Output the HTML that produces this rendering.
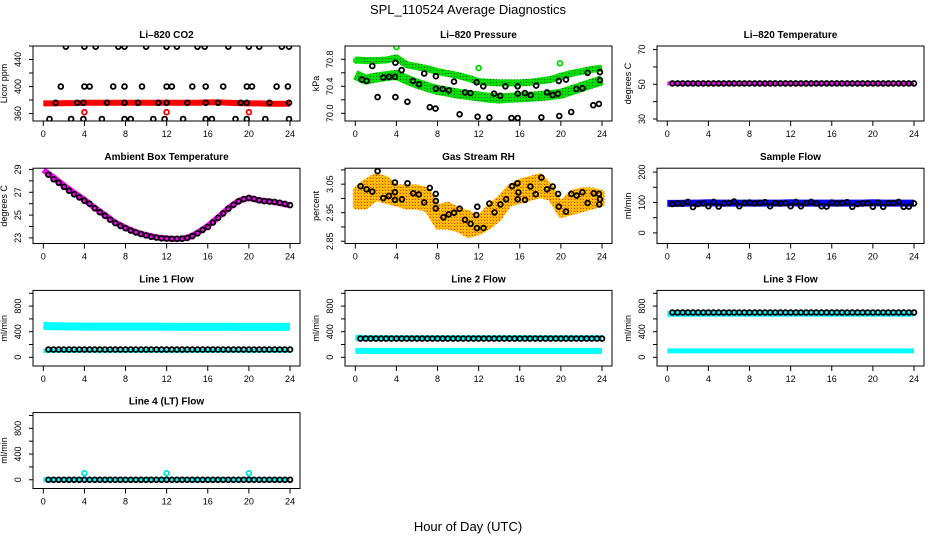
<!DOCTYPE html>
<html><head><meta charset="utf-8">
<style>
html,body{margin:0;padding:0;background:#fff;}
svg{display:block;font-family:"Liberation Sans",sans-serif;}
</style></head>
<body>
<svg id="chart" width="936" height="540" viewBox="0 0 936 540" xmlns="http://www.w3.org/2000/svg">
<defs>
<pattern id="greenDots" width="3" height="3" patternUnits="userSpaceOnUse"><rect width="3" height="3" fill="#00e000"/><rect x="1" y="1" width="1" height="1" fill="#1a5a1a"/></pattern>
<pattern id="orangeDots" width="3" height="3" patternUnits="userSpaceOnUse"><rect width="3" height="3" fill="#ffc400"/><rect x="1" y="1" width="1" height="1" fill="#ff2000"/><rect x="0" y="0" width="1" height="1" fill="#ff8800"/></pattern>
</defs>
<text x="468" y="14" text-anchor="middle" font-size="13">SPL_110524  Average Diagnostics</text>
<text x="468" y="531" text-anchor="middle" font-size="13">Hour of Day (UTC)</text>
</svg>
<script>
const hours = [0,1,2,3,4,5,6,7,8,9,10,11,12,13,14,15,16,17,18,19,20,21,22,23,24];
const halfHours = [0.5,1,1.5,2,2.5,3,3.5,4,4.5,5,5.5,6,6.5,7,7.5,8,8.5,9,9.5,10,10.5,11,11.5,12,12.5,13,13.5,14,14.5,15,15.5,16,16.5,17,17.5,18,18.5,19,19.5,20,20.5,21,21.5,22,22.5,23,23.5,24];
const xTicks = [0,4,8,12,16,20,24];

// CO2
const co2Band = [375,375,375.5,375.5,376,376,376,376,376,376,376,376,376,376,376,376,376.5,376.5,376,375.5,375,375,374.5,374.5,374.5];
const co2TopX = [2.2,4,5.1,7.3,7.9,10,12,13,15,15.7,18,20,21,23.2,23.9];
const co2TopY = [459,459,459,459,459,459,459,459,459,459,459,459,459,459,459];
const co2MidX = [1.7,4,4.5,6.8,7.9,9.6,12,12.5,14.5,15.8,17.5,19.8,20.3,22.7,23.8];
const co2MidY = [400,400,400,400,400,400,400,400,400,400,400,400,400,400,400];
const co2LowX = [0.6,2.7,3.9,5.7,7.9,8.5,10.7,11.8,13.6,15.8,16.4,18.7,19.8,21.6,23.9];
const co2LowY = [352,352,352,352,352,352,352,352,352,352,352,352,352,352,352];
const co2BandPtsX = [1.2,3.3,3.9,6.2,7.9,9.2,11.2,12,14,15.8,17,19.2,19.8,22,23.9];
const co2BandPtsY = [376,376,376,376,376,376,376,376,376,376,376,376,376,376,376];
const co2RedX = [4,12,20];
const co2RedY = [362,362,362];

// Pressure
const presUpper = [70.79,70.78,70.78,70.79,70.82,70.72,70.69,70.66,70.62,70.59,70.56,70.52,70.47,70.46,70.45,70.45,70.45,70.46,70.48,70.50,70.55,70.59,70.62,70.65,70.67];
const presLower = [70.57,70.50,70.53,70.55,70.57,70.50,70.44,70.39,70.345,70.32,70.29,70.27,70.25,70.23,70.22,70.23,70.235,70.245,70.255,70.27,70.29,70.34,70.39,70.44,70.49];
const presBlackX = [1.65,0.62,1.1,2.17,2.72,3.27,3.85,3.9,3.9,4.5,5.07,5.6,6.2,6.7,7.25,7.8,7.84,7.84,8.5,9.1,9.6,10.15,10.67,11.2,11.8,11.9,12.45,13.05,13.5,14.1,14.6,15.2,15.8,15.8,15.8,16.5,17.05,17.6,18.1,18.65,19.2,19.7,19.8,19.85,20.5,21.0,21.5,22.1,22.6,23.15,23.7,23.8,23.8];
const presBlackY = [70.70,70.50,70.48,70.24,70.53,70.54,70.54,70.75,70.24,70.64,70.17,70.48,70.43,70.59,70.09,70.07,70.55,70.365,70.36,70.34,70.47,69.985,70.31,70.30,70.46,69.95,70.40,69.94,70.29,70.26,70.40,69.93,69.93,70.40,70.29,70.30,70.27,70.41,69.94,70.31,70.27,70.29,70.48,69.96,70.50,70.02,70.36,70.37,70.60,70.12,70.14,70.61,70.49];
const presGreenX = [0.1,4.0,12.0,19.9];
const presGreenY = [70.78,70.98,70.67,70.74];

// Li-820 temperature
const tempBand = [50.5,50.5,50.5,50.5,50.5,50.5,50.5,50.5,50.5,50.5,50.5,50.5,50.5,50.5,50.5,50.5,50.5,50.5,50.5,50.5,50.5,50.5,50.5,50.5,50.5];
const tempBlack = [50.5,50.5,50.5,50.5,50.5,50.5,50.5,50.5,50.5,50.5,50.5,50.5,50.5,50.5,50.5,50.5,50.5,50.5,50.5,50.5,50.5,50.5,50.5,50.5,50.5,50.5,50.5,50.5,50.5,50.5,50.5,50.5,50.5,50.5,50.5,50.5,50.5,50.5,50.5,50.5,50.5,50.5,50.5,50.5,50.5,50.5,50.5,50.5];

// Ambient box temperature
const ambBand = [28.95,28.3,27.6,26.95,26.35,25.65,25.0,24.35,23.9,23.5,23.25,23.05,22.95,22.9,23.0,23.45,24.05,24.8,25.6,26.25,26.5,26.3,26.2,26.05,25.85];
const ambBlack = [28.54,28.14,27.83,27.48,27.14,26.82,26.55,26.25,26.0,25.6,25.25,24.95,24.6,24.3,24.05,23.85,23.65,23.48,23.34,23.22,23.1,23.03,22.97,22.94,22.92,22.92,22.93,23.0,23.15,23.4,23.7,23.95,24.35,24.75,25.15,25.55,25.9,26.2,26.4,26.51,26.42,26.3,26.23,26.18,26.16,26.08,25.98,25.88];

// Gas stream RH
const rhUpper = [3.03,3.06,3.08,3.07,3.04,3.04,3.04,3.03,2.97,2.98,2.96,2.95,2.93,2.97,3.00,3.04,3.06,3.07,3.08,3.04,2.98,3.02,3.03,3.03,3.02];
const rhLower = [2.97,2.97,3.00,2.99,2.98,2.97,2.97,2.96,2.90,2.90,2.89,2.87,2.88,2.90,2.93,2.98,2.99,3.00,3.01,3.00,2.94,2.95,2.96,2.97,2.98];
const rhBlackX = [0.52,1.1,1.65,2.17,2.72,3.27,3.85,3.85,3.85,4.53,5.08,5.63,6.18,6.7,7.25,7.83,7.83,7.83,8.57,9.09,9.6,10.15,10.67,11.22,11.77,11.83,11.87,12.47,13.05,13.54,14.12,14.67,15.25,15.77,15.87,15.8,16.51,17.03,17.55,18.1,18.65,19.2,19.73,19.8,20.5,21.02,21.54,22.09,22.6,23.19,23.7,23.8,23.74];
const rhBlackY = [3.043,3.032,3.024,3.096,3.001,3.009,3.056,3.022,2.995,2.997,3.053,3.018,3.014,2.986,3.037,3.016,2.991,2.965,2.934,2.944,2.950,2.964,2.925,2.911,2.942,2.896,2.971,2.896,2.982,2.951,2.979,2.997,3.043,3.053,3.021,2.997,2.995,3.042,3.015,3.073,3.032,3.042,3.016,2.971,2.954,3.016,3.010,3.022,2.984,3.018,3.016,2.997,2.979];

// Sample flow
const sampleBand = [97,97,98,98,99,98,98,98,98,98,98,98,99,98,98,98,98,98,98,98,99,98,98,98,98];
const sampleBlack = [95,97,96,102,85,95,97,88,102,87,97,98,103,88,98,100,97,99,101,88,98,97,98,88,102,88,98,102,97,88,87,100,97,98,101,86,95,97,98,86,100,86,98,98,102,86,87,97];

// Line flows
const l1High = [490,485,482,482,480,480,480,480,480,480,480,480,478,478,478,478,476,476,476,475,475,475,475,475,478];
const l1Low = [100,100,100,100,100,100,100,100,100,100,100,100,100,100,100,100,100,100,100,100,100,100,100,100,100];
const l1Black = [120,120,120,120,120,120,120,120,120,120,120,120,120,120,120,120,120,120,120,120,120,120,120,120,120,120,120,120,120,120,120,120,120,120,120,120,120,120,120,120,120,120,120,120,120,120,120,120];
const l2High = [305,300,300,300,300,300,300,300,300,300,300,300,300,300,300,300,300,300,300,300,300,300,300,300,300];
const l2Low = [100,100,100,100,100,100,100,100,100,100,100,100,100,100,100,100,100,100,100,100,100,100,100,100,100];
const l2Black = [292,292,292,292,292,292,292,292,292,292,292,292,292,292,292,292,292,292,292,292,292,292,292,292,292,292,292,292,292,292,292,292,292,292,292,292,292,292,292,292,292,292,292,292,292,292,292,292];
const l3High = [680,680,680,680,680,680,680,680,680,680,680,680,680,680,680,680,680,680,680,680,680,680,680,680,680];
const l3Low = [100,100,100,100,100,100,100,100,100,100,100,100,100,100,100,100,100,100,100,100,100,100,100,100,100];
const l3Black = [700,700,700,700,700,700,700,700,700,700,700,700,700,700,700,700,700,700,700,700,700,700,700,700,700,700,700,700,700,700,700,700,700,700,700,700,700,700,700,700,700,700,700,700,700,700,700,700];
const l4Line = [0,0,0,0,0,0,0,0,0,0,0,0,0,0,0,0,0,0,0,0,0,0,0,0,0];
const l4Black = [0,0,0,0,0,0,0,0,0,0,0,0,0,0,0,0,0,0,0,0,0,0,0,0,0,0,0,0,0,0,0,0,0,0,0,0,0,0,0,0,0,0,0,0,0,0,0,0];
const l4CyanX = [4,12,20];
const l4CyanY = [100,100,100];

const NS = "http://www.w3.org/2000/svg";
const svg = document.getElementById('chart');

function mk(tag, attrs, parent) {
  const e = document.createElementNS(NS, tag);
  for (const k in attrs) e.setAttribute(k, attrs[k]);
  parent.appendChild(e);
  return e;
}

function panel(p) {
  const left = 33 + 312 * p.col, right = 300 + 312 * p.col;
  const top = 46 + 122.2 * p.row, bottom = 121 + 122.5 * p.row;
  const x0 = 43.3 + 312 * p.col, x24 = 290 + 312 * p.col;
  const sx = h => x0 + (x24 - x0) * h / 24;
  const sy = v => bottom - (v - p.ymin) / (p.ymax - p.ymin) * (bottom - top);
  const g = mk('g', {}, svg);
  
  
  const t = mk('text', {x: (left + right) / 2, y: top - 8, 'text-anchor': 'middle', 'font-size': '10', 'font-weight': 'bold'}, g);
  t.textContent = p.title;
  
  
  const clip = mk('clipPath', {id: 'clip-' + p.name}, g);
  mk('rect', {x: left, y: top, width: right - left, height: bottom - top}, clip);
  const plot = mk('g', {'clip-path': 'url(#clip-' + p.name + ')'}, g);
  
  
  p.series.forEach(s => {
    if (s.type === 'band') {
      const pts = s.x.map((h, i) => sx(h).toFixed(1) + ',' + sy(s.y[i]).toFixed(1)).join(' ');
      const pl = mk('polyline', {points: pts, fill: 'none', stroke: s.color, 'stroke-width': s.w, 'stroke-linejoin': 'round'}, plot);
      
      
    } else if (s.type === 'area') {
      const up = s.x.map((h, i) => sx(h).toFixed(1) + ',' + sy(s.hi[i]).toFixed(1));
      const lo = s.x.map((h, i) => sx(h).toFixed(1) + ',' + sy(s.lo[i]).toFixed(1)).reverse();
      const pg = mk('polygon', {points: up.concat(lo).join(' '), fill: s.color, stroke: s.color, 'stroke-width': 5, 'stroke-linejoin': 'round'}, plot);
      
      
    } else {
      const sg = mk('g', {}, plot);
      
      
      s.x.forEach((h, i) => {
        const c = mk('circle', {cx: sx(h).toFixed(1), cy: sy(s.y[i]).toFixed(1), r: 2.4, fill: 'none', stroke: s.color, 'stroke-width': 1.8}, sg);
        
        
      });
    }
  });
  const box = mk('rect', {x: left, y: top, width: right - left, height: bottom - top, fill: 'none', stroke: '#000', 'stroke-width': 1}, g);
  
  
  const xa = mk('g', {}, g);
  
  
  mk('line', {x1: sx(0), x2: sx(24), y1: bottom, y2: bottom, stroke: '#000'}, xa);
  xTicks.forEach(h => {
    mk('line', {x1: sx(h), x2: sx(h), y1: bottom, y2: bottom + 5, stroke: '#000'}, xa);
    const tl = mk('text', {x: sx(h), y: bottom + 16, 'text-anchor': 'middle', 'font-size': '9'}, xa);
    tl.textContent = h;
  });
  const ya = mk('g', {}, g);
  
  
  mk('line', {x1: left, x2: left, y1: sy(p.yticks[0]), y2: sy(p.yticks[p.yticks.length - 1]), stroke: '#000'}, ya);
  p.yticks.forEach(v => {
    mk('line', {x1: left - 4, x2: left, y1: sy(v), y2: sy(v), stroke: '#000'}, ya);
  });
  p.ylabels.forEach(v => {
    const yy = sy(v), xx = left - 12;
    const tl = mk('text', {x: xx, y: yy, 'text-anchor': 'middle', 'font-size': '9', transform: 'rotate(-90 ' + xx + ' ' + yy + ')'}, ya);
    tl.textContent = v;
  });
  const yt = mk('text', {'text-anchor': 'middle', 'font-size': '9', x: left - 26, y: (top + bottom) / 2, transform: 'rotate(-90 ' + (left - 26) + ' ' + ((top + bottom) / 2) + ')'}, g);
  yt.textContent = p.ylab;
  
  
}

const flowTicks = [0,200,400,600,800,1000];
const flowLabels = ['0','400','800'];

panel({name: 'co2', title: 'Li\u2013820 CO2', ylab: 'Licor ppm', col: 0, row: 0, ymin: 349, ymax: 460,
  yticks: [360,380,400,420,440,460], ylabels: ['360','400','440'],
  series: [
    {type: 'band', name: 'co2-red-band', x: hours, y: co2Band, color: '#ff0000', w: 6},
    {type: 'pts', name: 'co2-top-points', x: co2TopX, y: co2TopY, color: '#000'},
    {type: 'pts', name: 'co2-mid-points', x: co2MidX, y: co2MidY, color: '#000'},
    {type: 'pts', name: 'co2-low-points', x: co2LowX, y: co2LowY, color: '#000'},
    {type: 'pts', name: 'co2-band-points', x: co2BandPtsX, y: co2BandPtsY, color: '#000'},
    {type: 'pts', name: 'co2-red-points', x: co2RedX, y: co2RedY, color: '#ff0000'}
  ]});
panel({name: 'pressure', title: 'Li\u2013820 Pressure', ylab: 'kPa', col: 1, row: 0, ymin: 69.886, ymax: 70.997,
  yticks: [70.0,70.2,70.4,70.6,70.8], ylabels: ['70.0','70.4','70.8'],
  series: [
    {type: 'band', name: 'pressure-upper-band', x: hours, y: presUpper, color: 'url(#greenDots)', w: 7},
    {type: 'band', name: 'pressure-lower-band', x: hours, y: presLower, color: 'url(#greenDots)', w: 10},
    {type: 'pts', name: 'pressure-green-points', x: presGreenX, y: presGreenY, color: '#00dd00'},
    {type: 'pts', name: 'pressure-black-points', x: presBlackX, y: presBlackY, color: '#000'}
  ]});
panel({name: 'li820-temp', title: 'Li\u2013820 Temperature', ylab: 'degrees C', col: 2, row: 0, ymin: 28.85, ymax: 72.07,
  yticks: [30,40,50,60,70], ylabels: ['30','50','70'],
  series: [
    {type: 'band', name: 'li820-temp-band', x: hours, y: tempBand, color: '#ff00ff', w: 4},
    {type: 'pts', name: 'li820-temp-points', x: halfHours, y: tempBlack, color: '#000'}
  ]});
panel({name: 'ambient-temp', title: 'Ambient Box Temperature', ylab: 'degrees C', col: 0, row: 1, ymin: 22.51, ymax: 29.11,
  yticks: [23,24,25,26,27,28,29], ylabels: ['23','25','27','29'],
  series: [
    {type: 'band', name: 'ambient-temp-band', x: hours, y: ambBand, color: '#ff00ff', w: 6},
    {type: 'pts', name: 'ambient-temp-points', x: halfHours, y: ambBlack, color: '#000'}
  ]});
panel({name: 'gas-rh', title: 'Gas Stream RH', ylab: 'percent', col: 1, row: 1, ymin: 2.842, ymax: 3.106,
  yticks: [2.85,2.90,2.95,3.00,3.05,3.10], ylabels: ['2.85','2.95','3.05'],
  series: [
    {type: 'area', name: 'gas-rh-band', x: hours, hi: rhUpper, lo: rhLower, color: 'url(#orangeDots)'},
    {type: 'pts', name: 'gas-rh-points', x: rhBlackX, y: rhBlackY, color: '#000'}
  ]});
panel({name: 'sample-flow', title: 'Sample Flow', ylab: 'ml/min', col: 2, row: 1, ymin: -34.8, ymax: 212.8,
  yticks: [0,50,100,150,200], ylabels: ['0','100','200'],
  series: [
    {type: 'band', name: 'sample-flow-band', x: hours, y: sampleBand, color: '#0000ff', w: 7},
    {type: 'pts', name: 'sample-flow-points', x: halfHours, y: sampleBlack, color: '#000'}
  ]});
panel({name: 'line1-flow', title: 'Line 1 Flow', ylab: 'ml/min', col: 0, row: 2, ymin: -136, ymax: 1045,
  yticks: flowTicks, ylabels: flowLabels,
  series: [
    {type: 'band', name: 'line1-high-band', x: hours, y: l1High, color: '#00ffff', w: 8},
    {type: 'band', name: 'line1-low-band', x: hours, y: l1Low, color: '#00ffff', w: 4},
    {type: 'pts', name: 'line1-points', x: halfHours, y: l1Black, color: '#000'}
  ]});
panel({name: 'line2-flow', title: 'Line 2 Flow', ylab: 'ml/min', col: 1, row: 2, ymin: -136, ymax: 1045,
  yticks: flowTicks, ylabels: flowLabels,
  series: [
    {type: 'band', name: 'line2-high-band', x: hours, y: l2High, color: '#00ffff', w: 6},
    {type: 'band', name: 'line2-low-band', x: hours, y: l2Low, color: '#00ffff', w: 6},
    {type: 'pts', name: 'line2-points', x: halfHours, y: l2Black, color: '#000'}
  ]});
panel({name: 'line3-flow', title: 'Line 3 Flow', ylab: 'ml/min', col: 2, row: 2, ymin: -136, ymax: 1045,
  yticks: flowTicks, ylabels: flowLabels,
  series: [
    {type: 'band', name: 'line3-high-band', x: hours, y: l3High, color: '#00ffff', w: 6},
    {type: 'band', name: 'line3-low-band', x: hours, y: l3Low, color: '#00ffff', w: 5},
    {type: 'pts', name: 'line3-points', x: halfHours, y: l3Black, color: '#000'}
  ]});
panel({name: 'line4-flow', title: 'Line 4 (LT) Flow', ylab: 'ml/min', col: 0, row: 3, ymin: -136, ymax: 1045,
  yticks: flowTicks, ylabels: flowLabels,
  series: [
    {type: 'band', name: 'line4-band', x: hours, y: l4Line, color: '#00ffff', w: 5},
    {type: 'pts', name: 'line4-points', x: halfHours, y: l4Black, color: '#000'},
    {type: 'pts', name: 'line4-cyan-points', x: l4CyanX, y: l4CyanY, color: '#00e0e0'}
  ]});
</script>
</body></html>
